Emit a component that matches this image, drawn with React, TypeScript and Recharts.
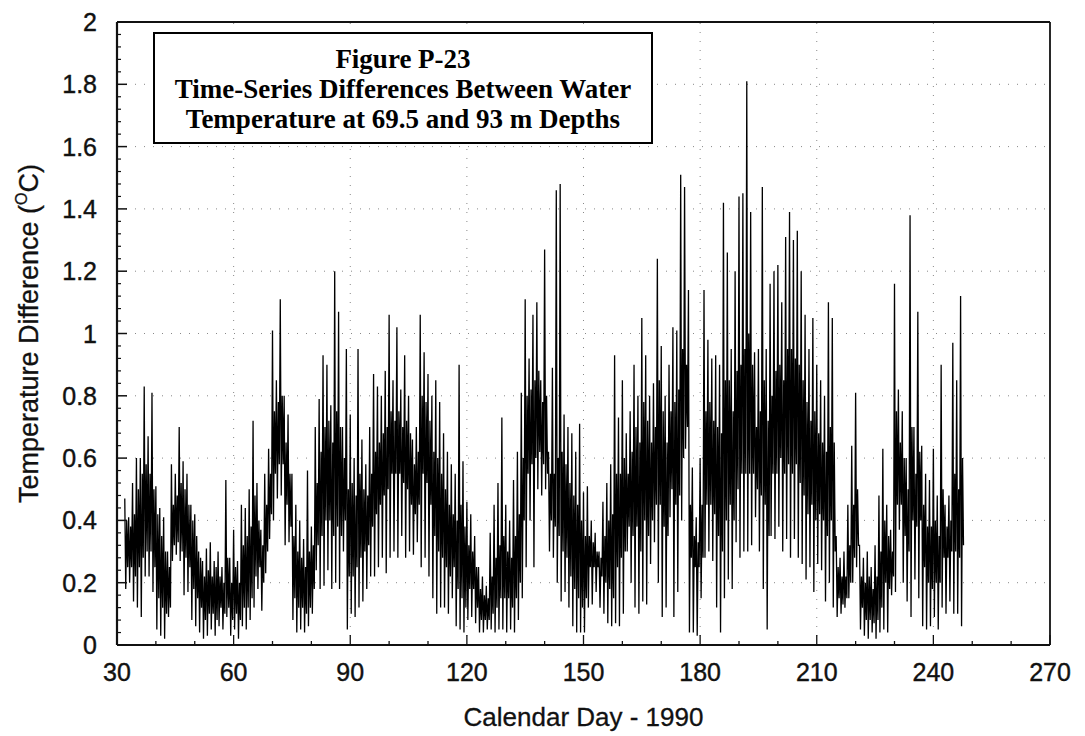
import React from 'react';
import { LineChart, Line, XAxis, YAxis, ReferenceLine } from 'recharts';

// First day of the record; each day gives four readings: peak, trough, band top, band bottom
const startDay = 32;

// Daily peak values (°C), days 32..247
const dailyHigh = [
  0.47, 0.41, 0.52, 0.60, 0.60, 0.83, 0.67, 0.81, 0.51, 0.44,
  0.41, 0.30, 0.58, 0.55, 0.70, 0.59, 0.55, 0.45, 0.42, 0.30,
  0.27, 0.31, 0.33, 0.27, 0.30, 0.25, 0.53, 0.28, 0.37, 0.27,
  0.45, 0.44, 0.50, 0.72, 0.52, 0.37, 0.55, 0.63, 1.01, 0.85,
  1.11, 0.80, 0.74, 0.55, 0.45, 0.40, 0.34, 0.56, 0.38, 0.70,
  0.79, 0.93, 0.90, 0.77, 1.20, 1.07, 0.70, 0.95, 0.74, 0.60,
  0.95, 0.66, 0.58, 0.70, 0.87, 0.83, 0.80, 0.88, 1.06, 0.85,
  1.02, 0.82, 0.93, 0.80, 0.66, 0.70, 1.06, 0.94, 0.87, 0.80,
  0.85, 0.78, 0.68, 0.62, 0.58, 0.55, 0.90, 0.59, 0.46, 0.42,
  0.35, 0.25, 0.22, 0.19, 0.36, 0.45, 0.52, 0.73, 0.45, 0.40,
  0.53, 0.62, 0.81, 1.11, 0.92, 1.06, 1.10, 0.85, 1.27, 0.62,
  0.89, 1.46, 1.48, 0.74, 0.70, 0.68, 0.62, 0.71, 0.49, 0.51,
  0.40, 0.36, 0.30, 0.46, 0.52, 0.58, 0.93, 0.73, 0.85, 0.68,
  0.75, 0.90, 0.80, 1.05, 0.93, 0.80, 0.84, 1.24, 0.96, 0.80,
  0.90, 1.02, 1.01, 1.51, 1.47, 1.14, 0.57, 0.41, 0.60, 1.14,
  0.98, 0.92, 0.93, 0.90, 1.42, 1.26, 0.95, 1.20, 1.44, 1.45,
  1.81, 1.39, 0.94, 0.95, 1.47, 0.95, 1.16, 1.20, 1.22, 1.10,
  1.31, 1.39, 1.30, 1.33, 1.20, 1.06, 0.95, 1.05, 0.90, 0.85,
  0.80, 1.10, 1.05, 0.35, 0.28, 0.30, 0.45, 0.64, 0.81, 0.32,
  0.28, 0.30, 0.25, 0.32, 0.48, 0.63, 0.45, 0.37, 1.16, 0.82,
  0.75, 0.60, 1.38, 0.70, 1.07, 0.64, 0.55, 0.53, 0.63, 0.48,
  0.90, 0.45, 0.48, 0.97, 0.85, 1.12,
];

// Daily trough values (°C), days 32..247
const dailyLow = [
  0.18, 0.20, 0.14, 0.12, 0.09, 0.22, 0.22, 0.17, 0.05, 0.03,
  0.02, 0.09, 0.27, 0.29, 0.27, 0.16, 0.17, 0.08, 0.06, 0.04,
  0.02, 0.03, 0.05, 0.03, 0.06, 0.05, 0.09, 0.03, 0.05, 0.02,
  0.06, 0.05, 0.08, 0.12, 0.18, 0.11, 0.23, 0.34, 0.40, 0.47,
  0.48, 0.32, 0.33, 0.08, 0.04, 0.05, 0.04, 0.06, 0.10, 0.24,
  0.18, 0.19, 0.24, 0.18, 0.20, 0.18, 0.30, 0.05, 0.10, 0.09,
  0.12, 0.14, 0.18, 0.22, 0.22, 0.25, 0.28, 0.23, 0.28, 0.30,
  0.28, 0.35, 0.28, 0.30, 0.29, 0.33, 0.25, 0.28, 0.22, 0.15,
  0.10, 0.12, 0.12, 0.10, 0.15, 0.06, 0.05, 0.04, 0.08, 0.09,
  0.07, 0.04, 0.04, 0.05, 0.05, 0.04, 0.05, 0.05, 0.04, 0.05,
  0.04, 0.08, 0.15, 0.25, 0.40, 0.25, 0.50, 0.48, 0.50, 0.30,
  0.28, 0.20, 0.14, 0.17, 0.12, 0.06, 0.04, 0.04, 0.04, 0.12,
  0.13, 0.17, 0.12, 0.10, 0.07, 0.06, 0.07, 0.06, 0.10, 0.30,
  0.20, 0.12, 0.10, 0.14, 0.13, 0.26, 0.33, 0.20, 0.09, 0.12,
  0.41, 0.09, 0.17, 0.40, 0.63, 0.04, 0.04, 0.03, 0.15, 0.28,
  0.30, 0.27, 0.12, 0.04, 0.15, 0.21, 0.18, 0.33, 0.28, 0.30,
  0.30, 0.32, 0.41, 0.30, 0.18, 0.05, 0.35, 0.34, 0.38, 0.30,
  0.34, 0.28, 0.34, 0.28, 0.26, 0.21, 0.25, 0.17, 0.26, 0.24,
  0.14, 0.20, 0.12, 0.09, 0.10, 0.12, 0.15, 0.20, 0.25, 0.05,
  0.03, 0.02, 0.04, 0.02, 0.04, 0.05, 0.04, 0.16, 0.17, 0.37,
  0.20, 0.14, 0.09, 0.21, 0.15, 0.06, 0.05, 0.06, 0.09, 0.05,
  0.12, 0.10, 0.14, 0.10, 0.10, 0.06,
];

// Top of the dense daily band (°C), days 32..247
const bandTop = [
  0.40, 0.38, 0.42, 0.50, 0.55, 0.58, 0.55, 0.50, 0.42, 0.35,
  0.30, 0.25, 0.45, 0.48, 0.52, 0.50, 0.45, 0.40, 0.35, 0.28,
  0.22, 0.24, 0.22, 0.25, 0.22, 0.20, 0.28, 0.20, 0.25, 0.20,
  0.32, 0.35, 0.38, 0.48, 0.40, 0.32, 0.45, 0.55, 0.75, 0.78,
  0.80, 0.65, 0.55, 0.35, 0.30, 0.28, 0.25, 0.30, 0.32, 0.52,
  0.62, 0.70, 0.72, 0.65, 0.75, 0.70, 0.60, 0.50, 0.52, 0.48,
  0.55, 0.50, 0.48, 0.55, 0.62, 0.65, 0.68, 0.70, 0.75, 0.72,
  0.75, 0.70, 0.72, 0.68, 0.58, 0.62, 0.80, 0.78, 0.72, 0.62,
  0.60, 0.55, 0.50, 0.45, 0.42, 0.40, 0.45, 0.38, 0.32, 0.30,
  0.25, 0.18, 0.16, 0.15, 0.22, 0.28, 0.32, 0.35, 0.30, 0.28,
  0.35, 0.42, 0.60, 0.80, 0.82, 0.85, 0.88, 0.78, 0.80, 0.55,
  0.55, 0.60, 0.62, 0.58, 0.52, 0.48, 0.45, 0.40, 0.35, 0.35,
  0.33, 0.30, 0.28, 0.35, 0.40, 0.42, 0.55, 0.55, 0.60, 0.55,
  0.62, 0.70, 0.65, 0.78, 0.72, 0.65, 0.70, 0.85, 0.75, 0.65,
  0.75, 0.78, 0.82, 0.95, 0.90, 0.45, 0.35, 0.33, 0.45, 0.75,
  0.78, 0.72, 0.70, 0.68, 0.85, 0.85, 0.75, 0.88, 0.90, 0.95,
  1.00, 0.90, 0.70, 0.75, 0.85, 0.72, 0.80, 0.88, 0.90, 0.85,
  0.95, 0.95, 0.92, 0.90, 0.85, 0.78, 0.72, 0.75, 0.68, 0.65,
  0.62, 0.70, 0.65, 0.25, 0.22, 0.22, 0.32, 0.45, 0.50, 0.22,
  0.20, 0.22, 0.18, 0.22, 0.30, 0.40, 0.35, 0.30, 0.75, 0.65,
  0.60, 0.50, 0.70, 0.55, 0.62, 0.45, 0.38, 0.38, 0.40, 0.35,
  0.50, 0.38, 0.40, 0.55, 0.50, 0.60,
];

// Bottom of the dense daily band (°C), days 32..247
const bandLow = [
  0.25, 0.25, 0.22, 0.25, 0.28, 0.30, 0.30, 0.25, 0.15, 0.12,
  0.10, 0.12, 0.32, 0.33, 0.30, 0.28, 0.25, 0.18, 0.15, 0.12,
  0.08, 0.10, 0.10, 0.08, 0.12, 0.10, 0.12, 0.08, 0.10, 0.08,
  0.12, 0.12, 0.15, 0.22, 0.25, 0.20, 0.30, 0.42, 0.55, 0.58,
  0.58, 0.45, 0.38, 0.15, 0.12, 0.12, 0.10, 0.12, 0.18, 0.32,
  0.35, 0.40, 0.40, 0.35, 0.38, 0.35, 0.40, 0.22, 0.22, 0.25,
  0.28, 0.30, 0.32, 0.38, 0.42, 0.45, 0.48, 0.50, 0.55, 0.55,
  0.55, 0.52, 0.50, 0.45, 0.42, 0.45, 0.55, 0.52, 0.45, 0.35,
  0.30, 0.28, 0.25, 0.22, 0.25, 0.18, 0.15, 0.12, 0.18, 0.18,
  0.12, 0.08, 0.08, 0.08, 0.10, 0.12, 0.15, 0.15, 0.15, 0.12,
  0.15, 0.20, 0.40, 0.55, 0.58, 0.60, 0.62, 0.58, 0.55, 0.40,
  0.38, 0.35, 0.30, 0.28, 0.22, 0.18, 0.15, 0.12, 0.15, 0.25,
  0.25, 0.25, 0.22, 0.20, 0.18, 0.15, 0.25, 0.28, 0.30, 0.38,
  0.35, 0.38, 0.30, 0.40, 0.35, 0.40, 0.45, 0.45, 0.38, 0.35,
  0.50, 0.45, 0.48, 0.60, 0.70, 0.28, 0.25, 0.25, 0.28, 0.45,
  0.45, 0.42, 0.35, 0.30, 0.40, 0.45, 0.40, 0.50, 0.55, 0.55,
  0.55, 0.55, 0.50, 0.48, 0.45, 0.35, 0.55, 0.55, 0.60, 0.55,
  0.58, 0.55, 0.58, 0.52, 0.48, 0.42, 0.45, 0.40, 0.42, 0.40,
  0.35, 0.40, 0.30, 0.15, 0.13, 0.15, 0.20, 0.28, 0.32, 0.12,
  0.08, 0.08, 0.07, 0.08, 0.12, 0.20, 0.18, 0.22, 0.45, 0.45,
  0.35, 0.30, 0.40, 0.38, 0.40, 0.25, 0.20, 0.18, 0.20, 0.20,
  0.28, 0.28, 0.30, 0.30, 0.28, 0.32,
];

// Axis ticks
const xMajorTicks = [30, 60, 90, 120, 150, 180, 210, 240, 270];
const xAllTicks = [30, 40, 50, 60, 70, 80, 90, 100, 110, 120, 130, 140, 150, 160, 170, 180, 190, 200, 210, 220, 230, 240, 250, 260, 270];
const yMajorTicks = [0, 0.2, 0.4, 0.6, 0.8, 1, 1.2, 1.4, 1.6, 1.8, 2];
const yAllTicks = Array.from({ length: 51 }, (_, i) => +(i * 0.04).toFixed(2));
const gridDays = [60, 90, 120, 150, 180, 210, 240];
const gridTemps = [0.2, 0.4, 0.6, 0.8, 1, 1.2, 1.4, 1.6, 1.8];

const titleLines = [
  'Figure P-23',
  'Time-Series Differences Between Water',
  'Temperature at 69.5 and 93 m Depths',
];
const xTitle = 'Calendar Day - 1990';

const data: { day: number; v: number }[] = [];
dailyHigh.forEach((h, i) => {
  data.push({ day: startDay + i, v: h });
  data.push({ day: startDay + i + 0.25, v: dailyLow[i] });
  data.push({ day: startDay + i + 0.5, v: bandTop[i] });
  data.push({ day: startDay + i + 0.75, v: bandLow[i] });
});

const FONT = '"Liberation Sans", Arial, Helvetica, sans-serif';
const TICK_MARGIN_Y = 20;
const TICK_MARGIN_X = 17;

const isMajor = (v: number, list: number[]) => list.some((m) => Math.abs(m - v) < 1e-6);

const YTick = (props: any) => {
  const { x, y, payload } = props;
  const v = payload.value;
  const axisX = x + TICK_MARGIN_Y;
  const major = isMajor(v, yMajorTicks);
  return (
    <g>
      <line x1={axisX} y1={y} x2={axisX + (major ? 10 : 4)} y2={y} stroke="#111" strokeWidth={major ? 1.5 : 1.2} />
      {major && (
        <text x={x} y={y} dy={9} textAnchor="end" fontFamily={FONT} fontSize={25} fill="#111" stroke="#111" strokeWidth={0.4}>
          {String(v)}
        </text>
      )}
    </g>
  );
};

const XTick = (props: any) => {
  const { x, y, payload } = props;
  const v = payload.value;
  const axisY = y - TICK_MARGIN_X;
  const major = isMajor(v, xMajorTicks);
  return (
    <g>
      <line x1={x} y1={axisY} x2={x} y2={axisY - (major ? 10 : 4)} stroke="#111" strokeWidth={1.3} />
      {major && (
        <text x={x} y={axisY + 36} textAnchor="middle" fontFamily={FONT} fontSize={25} fill="#111" stroke="#111" strokeWidth={0.4}>
          {String(v)}
        </text>
      )}
    </g>
  );
};

const XTitle = (props: any) => {
  const vb = props.viewBox;
  return (
    <text x={vb.x + vb.width / 2} y={vb.y + 81} textAnchor="middle" fontFamily={FONT} fontSize={26} fill="#111" stroke="#111" strokeWidth={0.3}>
      {xTitle}
    </text>
  );
};

const YTitle = (props: any) => {
  const vb = props.viewBox;
  const cx = 38;
  const cy = vb.y + vb.height / 2;
  return (
    <text
      x={cx}
      y={cy}
      transform={`rotate(-90, ${cx}, ${cy})`}
      textAnchor="middle"
      fontFamily={FONT}
      fontSize={27}
      fill="#111"
      stroke="#111"
      strokeWidth={0.3}
    >
      Temperature Difference (
      <tspan fontSize={16} dy={-11}>O</tspan>
      <tspan dy={11}>C)</tspan>
    </text>
  );
};

export default function App() {
  return (
    <div style={{ position: 'absolute', left: 0, top: 0, width: 1085, height: 736, background: '#fff' }}>
      <LineChart width={1085} height={736} data={data} margin={{ top: 22, right: 35, bottom: 0, left: 0 }}>
        {gridDays.map((d) => (
          <ReferenceLine key={'gx' + d} x={d} stroke="#888" strokeDasharray="1 8" strokeWidth={1} />
        ))}
        {gridTemps.map((t) => (
          <ReferenceLine key={'gy' + t} y={t} stroke="#888" strokeDasharray="1 8" strokeWidth={1} />
        ))}
        <XAxis
          dataKey="day"
          type="number"
          domain={[30, 270]}
          ticks={xAllTicks}
          interval={0}
          height={91}
          tickSize={0}
          tickMargin={TICK_MARGIN_X}
          tick={<XTick />}
          axisLine={{ stroke: '#111', strokeWidth: 2.2 }}
          tickLine={false}
          label={<XTitle />}
        />
        <YAxis
          type="number"
          domain={[0, 2]}
          ticks={yAllTicks}
          interval={0}
          width={117}
          tickSize={0}
          tickMargin={TICK_MARGIN_Y}
          tick={<YTick />}
          axisLine={{ stroke: '#111', strokeWidth: 2.2 }}
          tickLine={false}
          label={<YTitle />}
        />
        <ReferenceLine y={2} stroke="#111" strokeWidth={1.8} />
        <ReferenceLine x={270} stroke="#111" strokeWidth={1.8} />
        <Line
          type="linear"
          dataKey="v"
          stroke="#000"
          strokeWidth={1.3}
          dot={false}
          isAnimationActive={false}
        />
      </LineChart>
      <div
        style={{
          position: 'absolute',
          left: 153,
          top: 32,
          width: 500,
          height: 112,
          boxSizing: 'border-box',
          border: '2px solid #000',
          background: '#fff',
          fontFamily: '"Liberation Serif", "Times New Roman", serif',
          fontWeight: 'bold',
          fontSize: 27,
          lineHeight: '30px',
          textAlign: 'center',
          paddingTop: 10,
          color: '#000',
        }}
      >
        {titleLines.map((t) => (
          <div key={t}>{t}</div>
        ))}
      </div>
    </div>
  );
}
